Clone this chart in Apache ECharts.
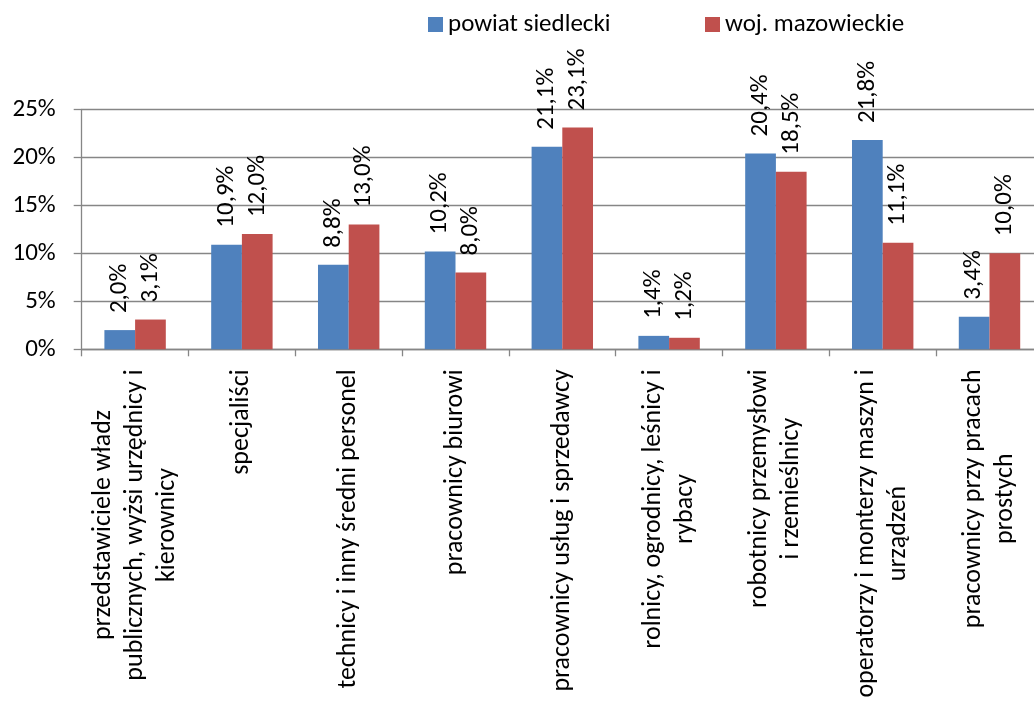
<!DOCTYPE html>
<html>
<head>
<meta charset="utf-8">
<script src="https://cdn.jsdelivr.net/npm/echarts@6/dist/echarts.min.js"></script>
<style>html,body{margin:0;padding:0;background:#fff}#c{width:1034px;height:704px}</style>
</head>
<body>
<div id="c"></div>
<script>
var categories = [
  "przedstawiciele władz\npublicznych, wyżsi urzędnicy i\nkierownicy",
  "specjaliści",
  "technicy i inny średni personel",
  "pracownicy biurowi",
  "pracownicy usług i sprzedawcy",
  "rolnicy, ogrodnicy, leśnicy i\nrybacy",
  "robotnicy przemysłowi\ni rzemieślnicy",
  "operatorzy i monterzy maszyn i\nurządzeń",
  "pracownicy przy pracach\nprostych"
];
var seriesNames = ["powiat siedlecki", "woj. mazowieckie"];
var powiat = [2.0, 10.9, 8.8, 10.2, 21.1, 1.4, 20.4, 21.8, 3.4];
var woj = [3.1, 12.0, 13.0, 8.0, 23.1, 1.2, 18.5, 11.1, 10.0];
var yTicks = {min: 0, max: 25, interval: 5};

var FONT = "Carlito, Lato, 'Open Sans', sans-serif";
var XFS = 26, FS = 25;

// measure longest line of each category label so its lines can be centred
var mctx = document.createElement('canvas').getContext('2d');
mctx.font = XFS + 'px ' + FONT;
function longestLine(s) {
  return Math.max.apply(null, s.split('\n').map(function (l) { return mctx.measureText(l).width; }));
}
var catData = categories.map(function (c) {
  return {value: c, textStyle: {align: 'center', padding: [0, longestLine(c), 0, 0]}};
});

var chart = echarts.init(document.getElementById('c'));
var labelOpt = {
  show: true,
  position: 'top',
  rotate: 90,
  align: 'left',
  verticalAlign: 'middle',
  distance: 17,
  color: '#000',
  fontFamily: FONT,
  fontSize: FS,
  formatter: function (p) { return p.value.toFixed(1).replace('.', ',') + '%'; }
};
var legendBase = {
  top: 12, itemWidth: 15, itemHeight: 15, icon: 'rect', padding: 0,
  textStyle: {fontSize: FS, color: '#000', fontFamily: FONT}
};
chart.setOption({
  animation: false,
  textStyle: {fontFamily: FONT},
  legend: [
    Object.assign({}, legendBase, {left: 428, data: [seriesNames[0]]}),
    Object.assign({}, legendBase, {left: 705, data: [seriesNames[1]]})
  ],
  grid: {left: 81.7, top: 109.3, width: 961.2, height: 240, containLabel: false, outerBoundsMode: 'none'},
  xAxis: {
    type: 'category',
    data: catData,
    axisLine: {lineStyle: {color: '#868686', width: 1.3}},
    axisTick: {show: true, length: 7, lineStyle: {color: '#868686', width: 1.3}},
    axisLabel: {
      interval: 0, rotate: 90, margin: 20, hideOverlap: false,
      color: '#000', fontFamily: FONT, fontSize: XFS, lineHeight: 32
    }
  },
  yAxis: {
    type: 'value',
    min: yTicks.min, max: yTicks.max, interval: yTicks.interval,
    axisLine: {show: true, lineStyle: {color: '#868686', width: 1.3}},
    axisTick: {show: true, length: 8, lineStyle: {color: '#868686', width: 1.3}},
    splitLine: {lineStyle: {color: '#868686', width: 1.3}},
    axisLabel: {formatter: '{value}%', margin: 26, color: '#000', fontFamily: FONT, fontSize: FS}
  },
  series: [
    {name: seriesNames[0], type: 'bar', data: powiat, barGap: '0%', barCategoryGap: '42.5%',
     itemStyle: {color: '#4F81BD'}, label: labelOpt},
    {name: seriesNames[1], type: 'bar', data: woj, barGap: '0%', barCategoryGap: '42.5%',
     itemStyle: {color: '#C0504D'}, label: labelOpt}
  ]
});
</script>
</body>
</html>
